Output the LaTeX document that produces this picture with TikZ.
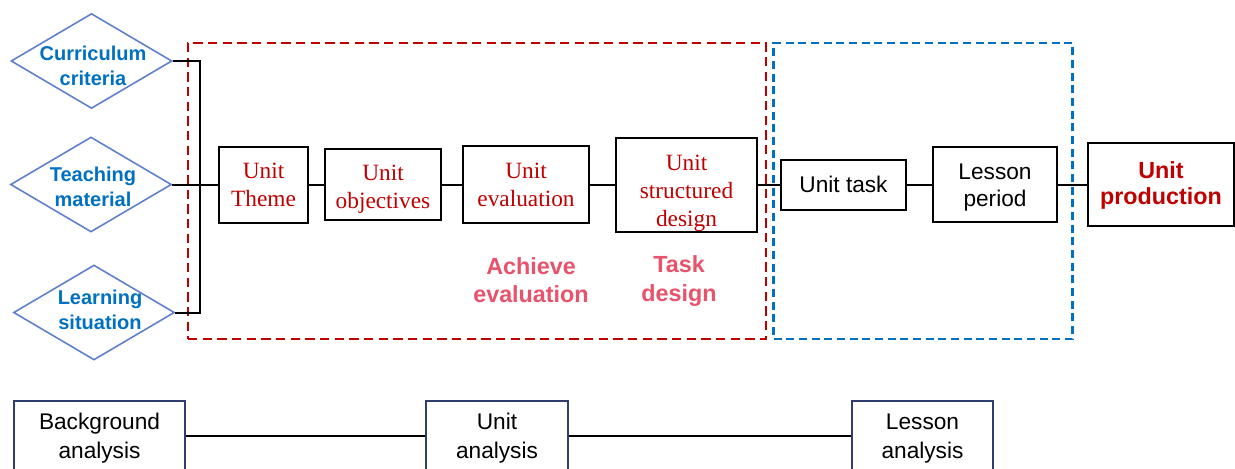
\documentclass[tikz,border=0pt]{standalone}
\usepackage{fontspec}
\setmainfont{Liberation Serif}
\newfontfamily\arial{Liberation Sans}
\usetikzlibrary{shapes.geometric}
\definecolor{dred}{RGB}{192,0,0}
\definecolor{pinkred}{RGB}{232,82,106}
\definecolor{tblue}{RGB}{0,112,192}
\definecolor{dedge}{RGB}{95,128,205}
\definecolor{navy}{RGB}{47,62,110}
\tikzset{
  px/.style={x=0.75pt,y=-0.75pt},
  dia/.style={diamond,draw=dedge,line width=1.2pt,minimum width=120.75pt,minimum height=71.25pt,inner sep=0pt},
  diatext/.style={align=center,text=tblue,font=\arial\bfseries\fontsize{15}{18.5}\selectfont,inner sep=0pt},
  chainbox/.style={draw=black,line width=1.5pt,inner sep=0pt},
  redtext/.style={align=center,inner sep=0pt,text=dred,font=\fontsize{17.5}{21.2}\selectfont},
  blktext/.style={align=center,inner sep=0pt,text=black,font=\arial\fontsize{17}{20.4}\selectfont},
  prodtext/.style={align=center,inner sep=0pt,text=dred,font=\arial\bfseries\fontsize{17.5}{20}\selectfont},
  botbox/.style={draw=navy,line width=1.2pt,inner sep=0pt},
  bottext/.style={align=center,inner sep=0pt,text=black,font=\arial\fontsize{17}{21.75}\selectfont},
  pinklabel/.style={align=center,inner sep=0pt,text=pinkred,font=\arial\bfseries\fontsize{17.5}{21.5}\selectfont},
  conn/.style={draw=black,line width=1.5pt},
  reddash/.style={draw=dred,line width=2.2pt,dash pattern=on 7pt off 4pt},
  bluedash/.style={draw=tblue,line width=1.9pt,dash pattern=on 6pt off 3.5pt}
}
\begin{document}
\begin{tikzpicture}[px]
\useasboundingbox (0,0) rectangle (1235,468);
% dashed groups
\node[reddash,minimum width=433.5pt,minimum height=222pt,inner sep=0pt] (redgrp) at (477,191) {};
\node[bluedash,minimum width=224.25pt,minimum height=222pt,inner sep=0pt] (bluegrp) at (923,191) {};
% diamonds
\node[dia] (d1) at (91.5,61) {};
\node[diatext] (d1t) at (93,66) {Curriculum\\criteria};
\node[dia] (d2) at (91,184.5) {};
\node[diatext] (d2t) at (93,187) {Teaching\\material};
\node[dia] (d3) at (94,312.5) {};
\node[diatext] (d3t) at (100,310) {Learning\\situation};
% chain boxes
\node[chainbox,minimum width=66.75pt,minimum height=57pt] (theme) at (263.5,184.5) {};
\node[redtext] (themet) at (263.5,187) {\strut Unit\\Theme\strut};
\node[chainbox,minimum width=87pt,minimum height=53.25pt] (obj) at (383,184.5) {};
\node[redtext] (objt) at (383,188.5) {\strut Unit\\objectives\strut};
\node[chainbox,minimum width=94.5pt,minimum height=57.75pt] (eval) at (526,184.5) {};
\node[redtext] (evalt) at (526,187) {\strut Unit\\evaluation\strut};
\node[chainbox,minimum width=105.75pt,minimum height=70.5pt] (sdes) at (686.5,184.5) {};
\node[redtext] (sdest) at (686.5,193) {\strut Unit\\structured\\design\strut};
\node[chainbox,minimum width=93.75pt,minimum height=37.5pt] (task) at (843.5,184.5) {};
\node[blktext] (taskt) at (843.5,184.5) {Unit task};
\node[chainbox,minimum width=93pt,minimum height=56.25pt] (lesson) at (995,184.5) {};
\node[blktext] (lessont) at (995,187.5) {\strut Lesson\\period\strut};
\node[chainbox,minimum width=109.5pt,minimum height=62.25pt] (prod) at (1161,184.5) {};
\node[prodtext] (prodt) at (1161,186) {\strut Unit\\production\strut};
% pink labels
\node[pinklabel] (ach) at (531,280) {Achieve\\evaluation};
\node[pinklabel] (tdes) at (679,281) {Task\\design};
% connectors
\coordinate (jx) at (200,184.5);
\draw[conn] (d1.east) -| (jx);
\draw[conn] (d3.east) -| (jx);
\draw[conn] (d2.east) -- (theme.west);
\draw[conn] (theme.east) -- (obj.west);
\draw[conn] (obj.east) -- (eval.west);
\draw[conn] (eval.east) -- (sdes.west);
\draw[conn] (sdes.east) -- (task.west);
\draw[conn] (task.east) -- (lesson.west);
\draw[conn] (lesson.east) -- (prod.west);
% bottom row
\node[botbox,minimum width=128.25pt,minimum height=52.5pt] (bg) at (99.5,436) {};
\node[bottext] (bgt) at (99.5,438) {\strut Background\\analysis\strut};
\node[botbox,minimum width=106.5pt,minimum height=52.5pt] (ua) at (497,436) {};
\node[bottext] (uat) at (497,438) {\strut Unit\\analysis\strut};
\node[botbox,minimum width=105.75pt,minimum height=52.5pt] (la) at (922.5,436) {};
\node[bottext] (lat) at (922.5,438) {\strut Lesson\\analysis\strut};
\draw[conn] (bg.east) -- (ua.west);
\draw[conn] (ua.east) -- (la.west);
\end{tikzpicture}
\end{document}
